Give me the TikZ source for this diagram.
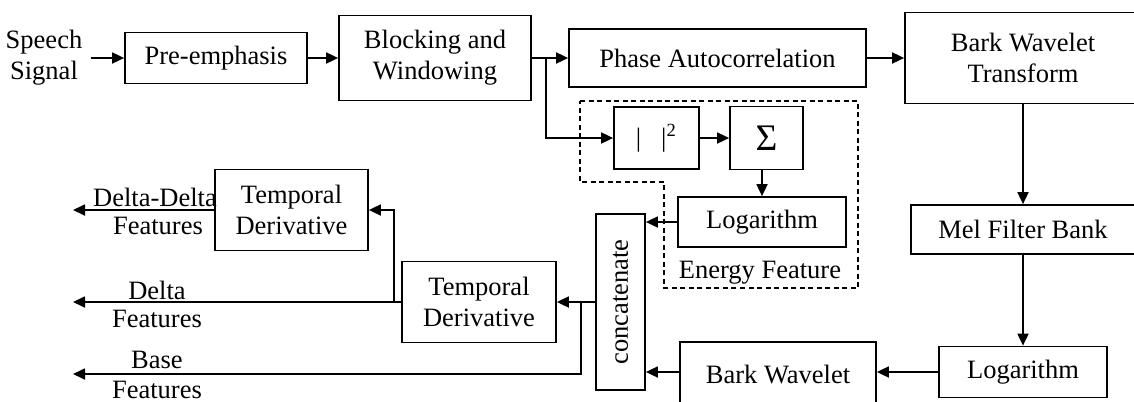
\documentclass[tikz,border=0pt]{standalone}
\usepackage{fontspec}
\setmainfont{Liberation Serif}
\usetikzlibrary{arrows.meta}

\begin{document}
\begin{tikzpicture}[x=0.4pt,y=-0.4pt,line width=0.7pt,
  font=\fontsize{10.6}{12.4}\selectfont,
  >={Triangle[length=4.8pt,width=4.4pt]},
  blk/.style={draw,align=center,inner sep=1pt},
  lbl/.style={align=center,inner sep=1pt}]
\useasboundingbox (0,0) rectangle (1134,401);
\clip (0,0) rectangle (1134,401);

\node (speech) [lbl,inner sep=3pt] at (44,58) {Speech\\Signal};
\node (pre) [blk,minimum width=72.8pt,minimum height=20.4pt] at (216,58) {Pre-emphasis};
\node (block) [blk,minimum width=76.8pt,minimum height=34pt] at (435,58) {Blocking and\\Windowing};
\node (phase) [blk,minimum width=118.8pt,minimum height=23.2pt] at (717.5,58) {Phase Autocorrelation};
\node (bwt) [blk,minimum width=94.4pt,minimum height=36.4pt] at (1023,58) {Bark Wavelet\\Transform};
\node (abs) [blk,minimum width=34pt,minimum height=24.8pt] at (656.5,138) {|\hspace{8pt}|\textsuperscript{2}};
\node (sum) [blk,minimum width=29.2pt,minimum height=25.2pt] at (766.5,138) {\fontsize{15}{17}\selectfont Σ};
\node (elog) [blk,minimum width=67.2pt,minimum height=20pt] at (762,222) {Logarithm};
\node (energy) [lbl] at (760,273) {Energy Feature};
\node (mel) [blk,minimum width=89.6pt,minimum height=19.6pt] at (1023,229.5) {Mel Filter Bank};
\node (blog) [blk,minimum width=67.2pt,minimum height=20.4pt] at (1023,372) {Logarithm};
\node (bark) [blk,minimum width=78.4pt,minimum height=25.6pt] at (778,374) {Bark Wavelet};
\node (concat) [blk,minimum width=19.6pt,minimum height=70.4pt] at (620.5,302) {\rotatebox{90}{concatenate}};
\node (td2) [blk,minimum width=61.6pt,minimum height=32.4pt] at (479,302) {Temporal\\Derivative};
\node (td1) [blk,minimum width=61.2pt,minimum height=32.4pt] at (291.5,210) {Temporal\\Derivative};

\node (ddlbl) [lbl] at (155,197) {Delta-Delta};
\node (ddfeat) [lbl] at (158,226) {Features};
\node (dlbl) [lbl] at (157,290) {Delta};
\node (dfeat) [lbl] at (157,319) {Features};
\node (blbl) [lbl] at (157,360) {Base};
\node (bfeat) [lbl] at (157,390) {Features};

\coordinate (split) at (546,58);
\coordinate (c1) at (581,302);
\coordinate (c2) at (394,302);
\coordinate (ddout) at (73,210);
\coordinate (deltaout) at (73,302);
\coordinate (baseout) at (73,374);

\draw[dash pattern=on 2pt off 1.4pt,line width=0.6pt] (580,101) -- (858,101) -- (858,288) -- (664,288) -- (664,182) -- (580,182) -- cycle;

\draw[->] (speech) -- (pre);
\draw[->] (pre) -- (block);
\draw[->] (block) -- (phase);
\draw[->] (phase) -- (bwt);
\draw[->] (split) |- (abs);
\draw[->] (abs) -- (sum);
\draw[->] (elog.north |- sum.south) -- (elog);
\draw[->] (bwt) -- (mel);
\draw[->] (mel) -- (blog);
\draw[->] (blog) -- (blog -| bark.east);
\draw[->] (elog) -- (elog -| concat.east);
\draw[->] (blog -| bark.west) -- (blog -| concat.east);
\draw[->] (concat) -- (td2);
\draw[->] (c1) |- (baseout);
\draw[->] (td2) -- (deltaout);
\draw[->] (c2) |- (td1);
\draw[->] (td1) -- (ddout);
\end{tikzpicture}
\end{document}
